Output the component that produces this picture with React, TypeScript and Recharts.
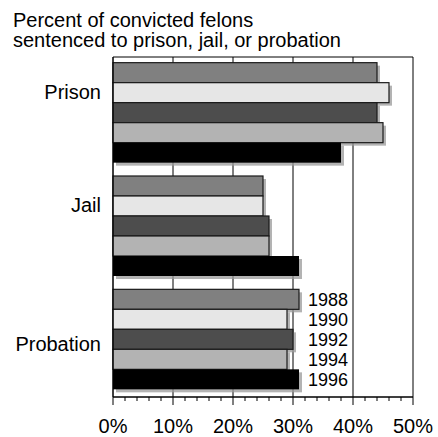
import React from 'react';
import { BarChart, Bar, XAxis, YAxis, CartesianGrid, ReferenceArea, LabelList } from 'recharts';

const categories = ['Prison', 'Jail', 'Probation'];
const years = ['1988', '1990', '1992', '1994', '1996'];
const v1988 = [44, 25, 31];
const v1990 = [46, 25, 29];
const v1992 = [44, 26, 30];
const v1994 = [45, 26, 29];
const v1996 = [38, 31, 31];
const seriesValues = [v1988, v1990, v1992, v1994, v1996];
const xTicks = [0, 2, 4, 6, 8, 10, 12, 14, 16, 18, 20, 22, 24, 26, 28, 30, 32, 34, 36, 38, 40, 42, 44, 46, 48, 50];
const gridValues = [10, 20, 30, 40];
const X_MAX = 50;

const COLORS = ['#808080', '#e6e6e6', '#4d4d4d', '#b3b3b3', '#000000'];
const FONT = '"Liberation Sans", Arial, sans-serif';
// category labels are not centred on their groups in the original
const LABEL_DY: Record<string, number> = { Prison: -15, Jail: -15, Probation: 11 };

const data = categories.map((name, i) => {
  const row: Record<string, string | number> = { name };
  years.forEach((y, j) => {
    row[y] = seriesValues[j][i];
  });
  return row;
});

const probationMax = Math.max(...seriesValues.map((s) => s[2]));

const ShadowBar = (props: any) => {
  const { x, y, width, height, fill, dark } = props;
  if (!width || width <= 0) return null;
  return (
    <g>
      <rect x={x + 3} y={y + 3} width={width} height={height} fill="#9a9a9a" fillOpacity={0.75} />
      <rect x={x} y={y} width={width} height={height} fill={fill} stroke={dark ? 'none' : '#1a1a1a'} strokeWidth={1.2} />
    </g>
  );
};

const XTick = (props: any) => {
  const { x, y, payload } = props;
  const major = payload.value % 10 === 0;
  return (
    <g>
      <line x1={x} x2={x} y1={y} y2={y + (major ? 8 : 4)} stroke="#000" strokeWidth={1} />
      {major && (
        <text x={x} y={y + 36} textAnchor="middle" fontSize={20} fontFamily={FONT} fill="#000">
          {payload.value}%
        </text>
      )}
    </g>
  );
};

const YTick = (props: any) => {
  const { x, y, payload } = props;
  return (
    <text x={x} y={y + (LABEL_DY[payload.value] ?? 0)} textAnchor="end" fontSize={20} fontFamily={FONT} fill="#000">
      {payload.value}
    </text>
  );
};

const yearLabel = (year: string) => (props: any) => {
  const { x, y, width, height, value, index } = props;
  if (index !== 2 || !value) return null;
  const lx = x + (width / value) * probationMax + 9;
  return (
    <text x={lx} y={y + height / 2 + 6.5} fontSize={18} fontFamily={FONT} fill="#000">
      {year}
    </text>
  );
};

// gridlines only at the major ticks, drawn behind the bars
const gridX = ({ xAxis, offset }: any) =>
  gridValues.map((v) =>
    xAxis && typeof xAxis.scale === 'function' ? xAxis.scale(v) : offset.left + (v / X_MAX) * offset.width,
  );

export default function App() {
  return (
    <div style={{ position: 'absolute', left: 0, top: 0, width: 438, height: 437, background: '#fff' }}>
      <div
        style={{
          position: 'absolute',
          left: 13,
          top: 10,
          fontFamily: FONT,
          fontSize: 20,
          lineHeight: '20px',
          color: '#000',
          whiteSpace: 'nowrap',
        }}
      >
        Percent of convicted felons
        <br />
        sentenced to prison, jail, or probation
      </div>
      <BarChart
        width={438}
        height={437}
        data={data}
        layout="vertical"
        margin={{ top: 57, right: 25, bottom: 0, left: 0 }}
        barCategoryGap="5%"
        barGap={0}
      >
        <CartesianGrid horizontal={false} stroke="#000" strokeWidth={1} verticalCoordinatesGenerator={gridX} />
        <XAxis
          type="number"
          domain={[0, X_MAX]}
          ticks={xTicks}
          interval={0}
          height={40}
          tickSize={0}
          tickMargin={0}
          tickLine={false}
          axisLine={{ stroke: '#000' }}
          tick={<XTick />}
        />
        <YAxis
          type="category"
          dataKey="name"
          width={113}
          tickSize={0}
          tickMargin={12}
          tickLine={false}
          axisLine={{ stroke: '#000' }}
          tick={<YTick />}
        />
        <ReferenceArea x1={0} x2={X_MAX} fill="none" stroke="#000" strokeWidth={1} ifOverflow="visible" />
        {years.map((y, i) => (
          <Bar
            key={y}
            dataKey={y}
            fill={COLORS[i]}
            isAnimationActive={false}
            shape={(p: any) => <ShadowBar {...p} dark={i === 4} />}
          >
            <LabelList dataKey={y} content={yearLabel(y)} />
          </Bar>
        ))}
      </BarChart>
    </div>
  );
}
